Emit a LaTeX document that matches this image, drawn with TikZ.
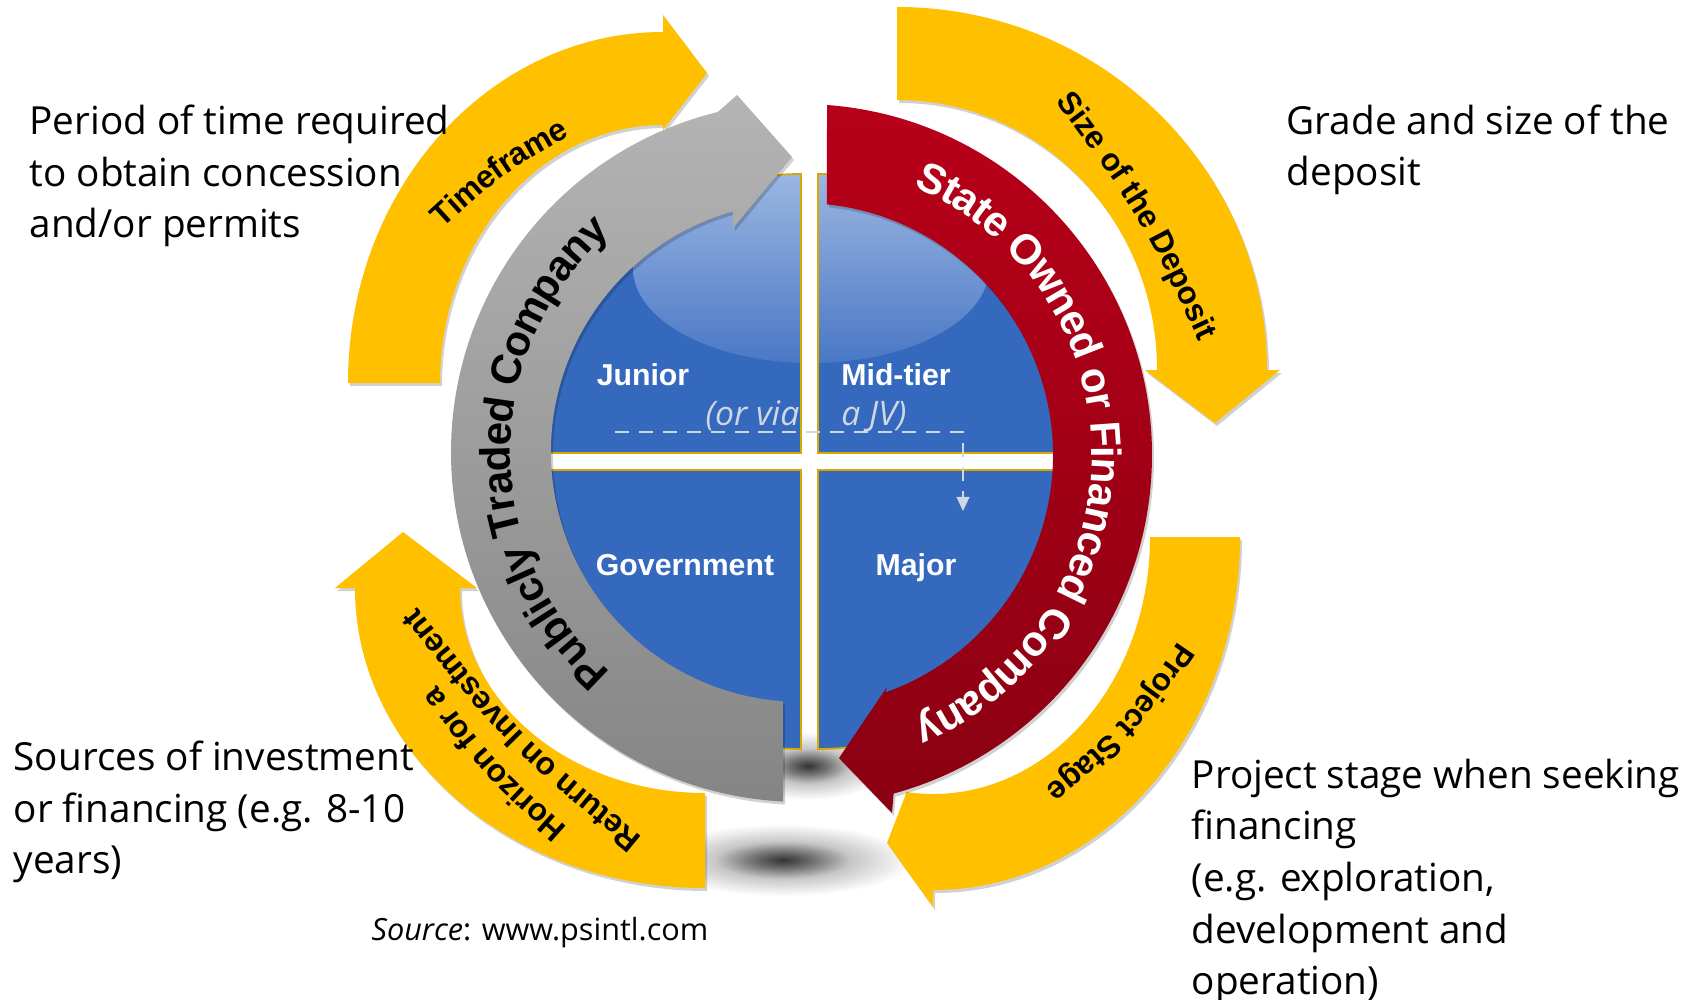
\documentclass[tikz,border=0pt]{standalone}
\usepackage{fontspec}
\setmainfont{Open Sans}
\newfontfamily\arcfont{Liberation Sans}
\usetikzlibrary{calc,decorations.text,arrows.meta}
\definecolor{yel}{HTML}{FFC000}
\definecolor{blueq}{HTML}{3469BE}
\definecolor{bluehi}{HTML}{9BB6E1}
\definecolor{bluemid}{HTML}{4A78C5}
\definecolor{redtop}{HTML}{B80019}
\definecolor{redbot}{HTML}{8A0012}
\definecolor{graytop}{HTML}{B4B4B4}
\definecolor{graymid}{HTML}{D2D2D2}
\definecolor{graybot}{HTML}{858585}
\definecolor{gold}{HTML}{D9A800}
\definecolor{jvgray}{HTML}{D0D6E2}
\pgfdeclareradialshading{softshadow}{\pgfpoint{0bp}{0bp}}{color(0bp)=(black!80); color(6bp)=(black!55); color(13bp)=(black!22); color(25bp)=(white); color(50bp)=(white)}

\newcommand\arcbig{\arcfont\bfseries\fontsize{12}{14}\selectfont}
\newcommand\arcsmall{\arcfont\bfseries\fontsize{9}{11}\selectfont}

\newcommand\pathTime{(348,383) arc[start angle=180, end angle=270, x radius=315, y radius=351]
  -- (663,15) -- (707,73) -- (663,130) -- (663,125)
  arc[start angle=270, end angle=180, x radius=223, y radius=258] -- cycle}
\newcommand\pathDeposit{(897,7) arc[start angle=270, end angle=360, x radius=370, y radius=363]
  -- (1280,370) -- (1215,423) -- (1145,370) -- (1157,370)
  arc[start angle=0, end angle=-90, x radius=260, y radius=270] -- cycle}
\newcommand\pathStage{(1240,537) arc[start angle=0, end angle=90, x radius=307, y radius=353]
  -- (933,907) -- (887,843) -- (906.6,792.1)
  arc[start angle=97, end angle=0, x radius=217, y radius=257] -- cycle}
\newcommand\pathHorizon{(705,888) arc[start angle=90, end angle=180, x radius=350, y radius=300]
  -- (335,588) -- (403,532) -- (477,588) -- (460,588)
  arc[start angle=180, end angle=90, x radius=245, y radius=205] -- cycle}
\newcommand\pathGray{(783,801.5) arc[start angle=92.95, end angle=256.24, radius=350]
  -- (737,95) -- (792,157) -- (733,228) -- (732.9,211.4)
  arc[start angle=254.2, end angle=94.13, radius=250] -- cycle}
\newcommand\pathRed{(827,105) arc[start angle=-85.75, end angle=74.7, radius=351]
  -- (892,813) -- (839,758) -- (887,687) -- (885.5,692.4)
  arc[start angle=70.4, end angle=-84.08, radius=252] -- cycle}

\begin{document}
\begin{tikzpicture}[x=0.01cm, y=-0.01cm,
    arrowshade/.style={fill=black, opacity=0.18},
    quadrant/.style={fill=blueq},
    quadedge/.style={draw=gold, line width=0.5pt},
    quadlabel/.style={text=white, anchor=base, inner sep=0pt, font=\arcfont\bfseries\fontsize{8.6}{10}\selectfont},
    sidetext/.style={align=left, anchor=north west, inner sep=0pt, font=\fontsize{11}{14.7}\selectfont},
    jvline/.style={draw=jvgray, line width=0.6pt, dash pattern=on 4pt off 2.8pt, -{Triangle[length=4pt,width=3.6pt]}}]
    \useasboundingbox (0,0) rectangle (1706,1000);
    \fill[white] (0,0) rectangle (1706,1000);

    \shade[shading=softshadow] (808,766) ellipse[x radius=80, y radius=34];
    \shade[shading=softshadow] (783,860) ellipse[x radius=130, y radius=36];

    \fill[arrowshade, shift={(2,3)}] \pathTime;
    \fill[yel] \pathTime;
    \fill[arrowshade, shift={(2,3)}] \pathDeposit;
    \fill[yel] \pathDeposit;
    \fill[arrowshade, shift={(2,3)}] \pathStage;
    \fill[yel] \pathStage;
    \fill[arrowshade, shift={(2,3)}] \pathHorizon;
    \fill[yel] \pathHorizon;

    \foreach \cx/\cy/\a in {801/453/180, 818/453/270, 801/470/90, 818/470/0}
        \fill[quadrant] (\cx,\cy) -- ++(\a:279) arc[start angle=\a, end angle=\a+90, radius=279] -- cycle;
    \begin{scope}
        \clip (801,453) -- ++(180:279) arc[start angle=180, end angle=270, radius=279] -- cycle
              (818,453) -- ++(270:279) arc[start angle=270, end angle=360, radius=279] -- cycle;
        \shade[top color=bluehi, bottom color=bluemid] (811,268) ellipse[x radius=178, y radius=95];
    \end{scope}
    \foreach \cx/\cy/\a in {801/453/180, 818/453/270, 801/470/90, 818/470/0}
        \draw[quadedge] (\cx,\cy) -- ++(\a:279) arc[start angle=\a, end angle=\a+90, radius=279] -- cycle;

    \foreach \px/\py/\t in {643/385/Junior, 896/385/Mid-tier, 685/575/Government, 916/575/Major}
        \node[quadlabel] (lbl\t) at (\px,\py) {\t};

    \coordinate (jvstart) at (615,432);
    \coordinate (jvend) at (963,511);
    \draw[jvline] (jvstart) -| (jvend);
    \node[text=jvgray, anchor=base, inner sep=0pt, font=\itshape\fontsize{9.6}{12}\selectfont] (jvnote) at (806,425) {(or via\hspace{0.42cm}a JV)};

    \coordinate (gc) at (801,452);
    \coordinate (rc) at (801,455);
    \fill[arrowshade, shift={(2,3)}] \pathGray;
    \shade[top color=graytop, middle color=graymid, bottom color=graybot] \pathGray;
    \fill[arrowshade, shift={(2,3)}] \pathRed;
    \shade[top color=redtop, bottom color=redbot] \pathRed;

    \path[decorate, decoration={text along path, text align=center, raise=-3.5pt,
        text={|\arcbig|Publicly Traded Company}}]
        ($(gc)+(120:303)$) arc[start angle=120, end angle=240, radius=303];
    \path[decorate, decoration={text along path, text align=center, raise=-3.5pt, text color=white,
        text={|\arcbig|State Owned or Financed Company}}]
        ($(rc)+(-76:303)$) arc[start angle=-76, end angle=76, radius=303];

    \path[decorate, decoration={text along path, text align=center, raise=-2.7pt,
        text={|\arcsmall|Timeframe}}]
        (420.7,235.6) .. controls (495.5,166.8) .. (584.3,117.5);
    \path[decorate, decoration={text along path, text align=center, raise=-2.7pt,
        text={|\arcsmall|Size of the Deposit}}]
        (1052.6,81.2) .. controls (1147.7,209.3) .. (1215.4,353.8);
    \path[decorate, decoration={text along path, text align=center, raise=-2.7pt,
        text={|\arcsmall|Project Stage}}]
        (1195.2,634.8) .. controls (1129.3,730.8) .. (1039.8,805.2);
    \path[decorate, decoration={text along path, text align=center, raise=-2.7pt,
        text={|\arcsmall|Horizon for a}}]
        (573.3,845.1) .. controls (487.7,769.6) .. (419.7,677.9);
    \path[decorate, decoration={text along path, text align=center, raise=-2.7pt,
        text={|\arcsmall|Return on Investment}}]
        (654,858.4) .. controls (510.7,741) .. (396,595.6);

    \node[sidetext] (timenote) at (29,104) {Period of time required\\to obtain concession\\and/or permits};
    \node[sidetext] (depositnote) at (1286,104) {Grade and size of the\\deposit};
    \node[sidetext] (returnnote) at (13,740) {Sources of investment\\or financing (e.g. 8-10\\years)};
    \node[sidetext] (stagenote) at (1191,758) {Project stage when seeking\\financing\\(e.g. exploration,\\development and\\operation)};
    \node[anchor=base west, inner sep=0pt, font=\fontsize{8.7}{11}\selectfont] (source) at (371,940) {\textit{Source}: www.psintl.com};
\end{tikzpicture}
\end{document}
